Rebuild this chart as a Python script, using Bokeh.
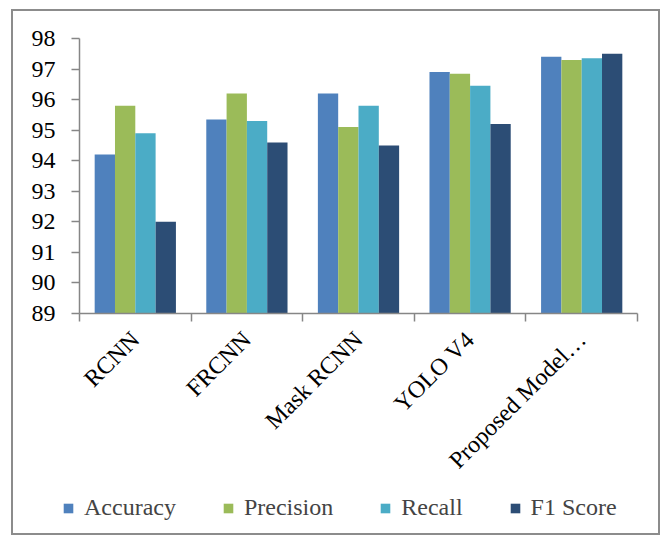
from math import pi
from bokeh.plotting import figure
from bokeh.layouts import column
from bokeh.models import (ColumnDataSource, Range1d, FixedTicker, Legend, LegendItem, LinearAxis)
from bokeh.transform import dodge
from bokeh.embed import file_html
from bokeh.resources import INLINE

categories = ["RCNN", "FRCNN", "Mask RCNN", "YOLO V4", "Proposed Model\u2026"]
accuracy = [94.2, 95.35, 96.2, 96.9, 97.4]
precision = [95.8, 96.2, 95.1, 96.85, 97.3]
recall = [94.9, 95.3, 95.8, 96.45, 97.35]
f1_score = [92.0, 94.6, 94.5, 95.2, 97.5]
series_names = ["Accuracy", "Precision", "Recall", "F1 Score"]
colors = ["#4F81BD", "#9BBB59", "#4BACC6", "#2C4D75"]
y_ticks = list(range(89, 99))

FONT = "Liberation Serif"
FS = "24px"
n = len(categories)
centers = [i + 0.5 for i in range(n)]
source = ColumnDataSource(dict(x=centers, Accuracy=accuracy, Precision=precision,
                               Recall=recall, F1=f1_score))

p = figure(width=645, height=480, output_backend="svg", toolbar_location=None,
           x_range=Range1d(0, n), y_range=Range1d(89, 98),
           min_border_left=66, min_border_right=21, min_border_top=27,
           min_border_bottom=178, x_axis_type=None)
p.frame_align = False
p.outline_line_color = None
p.xgrid.visible = False
p.ygrid.visible = False

bw = 0.182
offsets = [-1.5 * bw, -0.5 * bw, 0.5 * bw, 1.5 * bw]
fields = ["Accuracy", "Precision", "Recall", "F1"]
for f, off, c in zip(fields, offsets, colors):
    p.vbar(x=dodge("x", off, range=p.x_range), top=f, bottom=89, width=bw,
           source=source, fill_color=c, line_color=None)

xaxis = LinearAxis(ticker=FixedTicker(ticks=centers, minor_ticks=list(range(n + 1))))
xaxis.major_label_overrides = {c: lab for c, lab in zip(centers, categories)}
xaxis.major_label_orientation = pi / 4
xaxis.major_tick_line_color = None
xaxis.major_tick_out = 8
xaxis.major_tick_in = 0
xaxis.minor_tick_out = 8
xaxis.minor_tick_in = 0
xaxis.minor_tick_line_color = "#868686"
xaxis.axis_line_color = "#868686"
xaxis.axis_line_width = 1.5
xaxis.minor_tick_line_width = 1.5
xaxis.major_label_standoff = 14
xaxis.major_label_text_font = FONT
xaxis.major_label_text_font_size = FS
xaxis.major_label_text_color = "black"
p.add_layout(xaxis, "below")

ya = p.yaxis[0]
ya.ticker = FixedTicker(ticks=y_ticks)
ya.axis_line_color = "#868686"
ya.axis_line_width = 1.5
ya.major_tick_line_color = "#868686"
ya.major_tick_line_width = 1.5
ya.major_tick_out = 8
ya.major_tick_in = 0
ya.minor_tick_line_color = None
ya.major_label_standoff = 16
ya.major_label_text_font = FONT
ya.major_label_text_font_size = FS
ya.major_label_text_color = "black"

# legend strip below the chart (its series renderers lie outside this strip's ranges)
lg = figure(width=645, height=42, output_backend="svg", toolbar_location=None,
            x_range=Range1d(-2 * n, -n), y_range=Range1d(0, 1),
            min_border=0, min_border_left=0, min_border_right=0,
            min_border_top=0, min_border_bottom=0,
            x_axis_type=None, y_axis_type=None)
lg.frame_align = False
lg.outline_line_color = None
lg.xgrid.visible = False
lg.ygrid.visible = False
items = []
for s, f, off, c in zip(series_names, fields, offsets, colors):
    r = lg.vbar(x=dodge("x", off, range=lg.x_range), top=f, bottom=89, width=bw,
                source=source, fill_color=c, line_color=None)
    items.append(LegendItem(label=s, renderers=[r]))
legend = Legend(items=items, orientation="horizontal", location=(49, 12),
                glyph_width=12, glyph_height=12, label_standoff=10, spacing=46,
                label_text_font=FONT, label_text_font_size=FS,
                border_line_color=None, background_fill_alpha=0, padding=0, margin=0)
lg.add_layout(legend, "center")

layout = column(p, lg, spacing=0, margin=(9, 0, 0, 11),
                styles={"border": "2px solid #8c8c8c"})

open("out.html", "w").write(file_html(layout, INLINE))
